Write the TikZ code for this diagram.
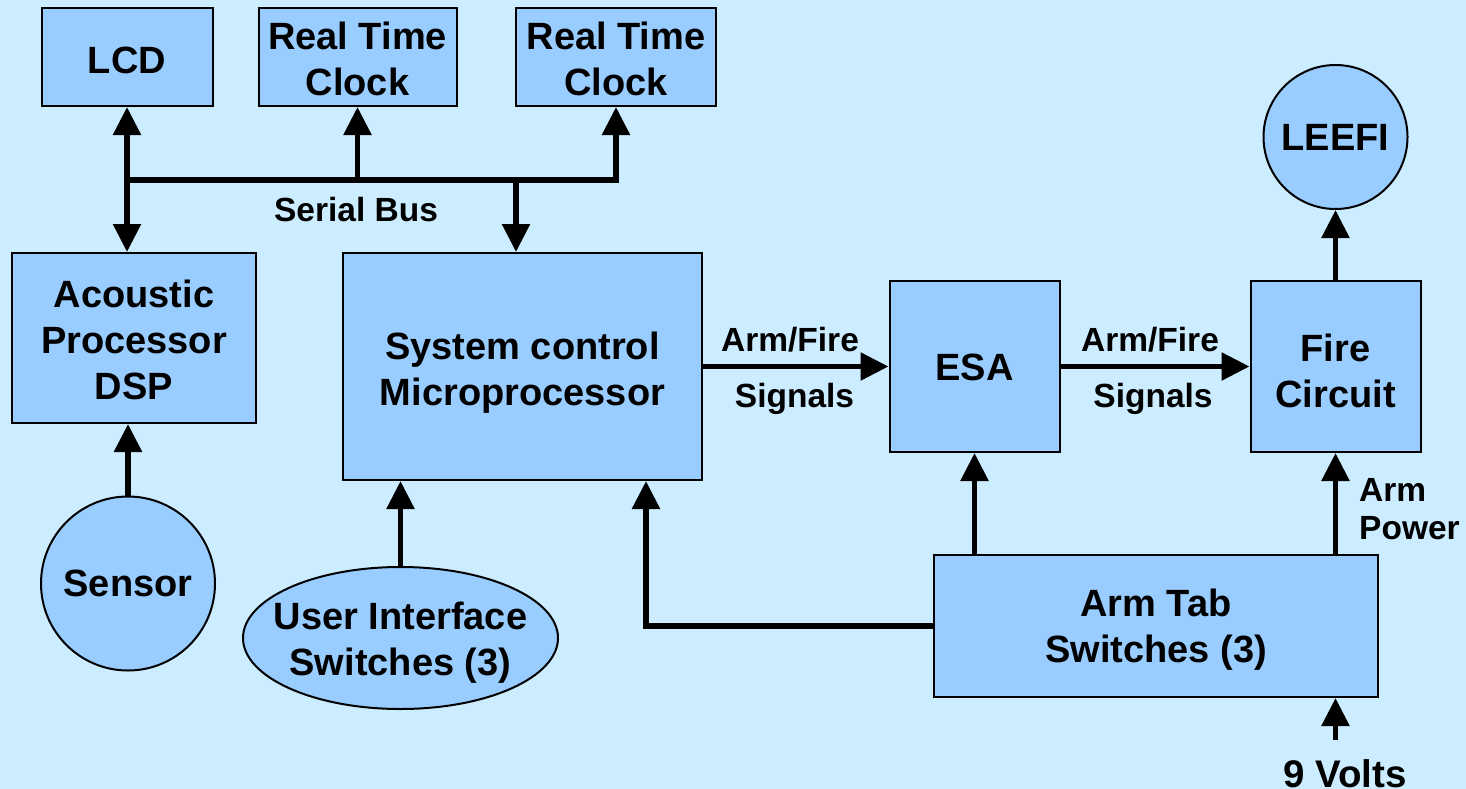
\documentclass[tikz,border=0pt]{standalone}
\usepackage{fontspec}
\setmainfont{Liberation Sans}
\usetikzlibrary{arrows.meta,shapes.geometric}
\definecolor{bgc}{RGB}{204,236,255}
\definecolor{boxc}{RGB}{153,204,255}
\begin{document}
\begin{tikzpicture}[x=1pt,y=-1pt,
  bigtext/.style={font=\fontsize{38}{46}\selectfont\bfseries,align=center,inner sep=0pt},
  box/.style={draw=black,line width=2pt,fill=boxc,inner sep=0pt},
  rbox/.style={box,rectangle},
  cbox/.style={box,circle},
  ebox/.style={box,ellipse},
  lab/.style={font=\fontsize{33.5}{40}\selectfont\bfseries,inner sep=0pt,align=center},
  conn/.style={line width=5.5pt},
  arr/.style={conn,-{Triangle[width=27pt,length=28pt]}},
  biarr/.style={conn,{Triangle[width=27pt,length=28pt]}-{Triangle[width=27pt,length=28pt]}},
]
\useasboundingbox (0,0) rectangle (1466,789);
\fill[bgc] (0,0) rectangle (1466,789);

% shapes
\node[rbox,minimum width=171pt,minimum height=98pt] (lcd) at (127,57) {};
\node[rbox,minimum width=198pt,minimum height=98pt] (rtcA) at (357.5,57) {};
\node[rbox,minimum width=200pt,minimum height=98pt] (rtcB) at (616,57) {};
\node[rbox,minimum width=244pt,minimum height=170pt] (acp) at (134,338) {};
\node[rbox,minimum width=359pt,minimum height=227pt] (sys) at (522.5,366.5) {};
\node[rbox,minimum width=170pt,minimum height=171pt] (esa) at (974.5,366.5) {};
\node[rbox,minimum width=170pt,minimum height=171pt] (fire) at (1335.5,366.5) {};
\node[cbox,minimum size=144pt] (leefi) at (1335.5,137) {};
\node[cbox,minimum size=174pt] (sensor) at (128,583.5) {};
\node[ebox,minimum width=315pt,minimum height=142pt] (ui) at (400.5,638) {};
\node[rbox,minimum width=444pt,minimum height=142pt] (arm) at (1156,626) {};

% texts in shapes
\node[bigtext] (lcdT) at ([yshift=-3pt]lcd.center) {LCD};
\node[bigtext] (rtcAT) at ([yshift=-2pt]rtcA.center) {Real Time\\Clock};
\node[bigtext] (rtcBT) at ([yshift=-2pt]rtcB.center) {Real Time\\Clock};
\node[bigtext] (acpT) at ([yshift=-2pt]acp.center) {Acoustic\\Processor\\DSP};
\node[bigtext] (sysT) at ([yshift=-6pt]sys.center) {System control\\Microprocessor};
\node[bigtext] (esaT) at ([yshift=-1pt]esa.center) {ESA};
\node[bigtext] (fireT) at ([yshift=-4pt]fire.center) {Fire\\Circuit};
\node[bigtext] (leefiT) at (leefi.center) {LEEFI};
\node[bigtext] (sensorT) at (sensor.center) {Sensor};
\node[bigtext] (uiT) at ([yshift=-5pt]ui.center) {User Interface\\Switches (3)};
\node[bigtext] (armT) at ([yshift=-4pt]arm.center) {Arm Tab\\Switches (3)};

% labels
\node[lab] (serial) at (356,210) {Serial Bus};
\node[lab] (af1) at (790,340) {Arm/Fire};
\node[lab] (sg1) at (794.5,399) {Signals};
\node[lab] (af2) at (1150,340) {Arm/Fire};
\node[lab] (sg2) at (1153,399) {Signals};
\node[lab,anchor=west,align=left,font=\fontsize{33.5}{38}\selectfont\bfseries] (armpow) at (1359,509) {Arm\\Power};
\node[lab,font=\fontsize{38.5}{40}\selectfont\bfseries] (volts) at (1345,774) {9 Volts};

% bus
\coordinate (b1) at (127,180);
\coordinate (b2) at (357.5,180);
\coordinate (b3) at (516,180);
\coordinate (b4) at (616,180);
\coordinate (vin) at (1335.5,740);
\draw[conn] ([xshift=-2.75pt]b1) -- ([xshift=2.75pt]b4);
\draw[biarr] (lcd.south) -- (lcd.south |- acp.north);
\draw[arr] (b2) -- (b2 |- rtcA.south);
\draw[arr] (b4) -- (b4 |- rtcB.south);
\draw[arr] (b3) -- (b3 |- sys.north);

% connectors
\draw[arr] (sensor.north) -- (sensor.north |- acp.south);
\draw[arr] (ui.north) -- (ui.north |- sys.south);
\draw[arr] (arm.west) -| ([xshift=123.5pt]sys.south);
\draw[arr] (sys.east) -- (esa.west);
\draw[arr] (esa.east) -- (fire.west);
\draw[arr] (fire.north) -- (leefi.south);
\draw[arr] (esa.south |- arm.north) -- (esa.south);
\draw[arr] (fire.south |- arm.north) -- (fire.south);
\draw[arr] (vin) -- (vin |- arm.south);
\end{tikzpicture}
\end{document}
